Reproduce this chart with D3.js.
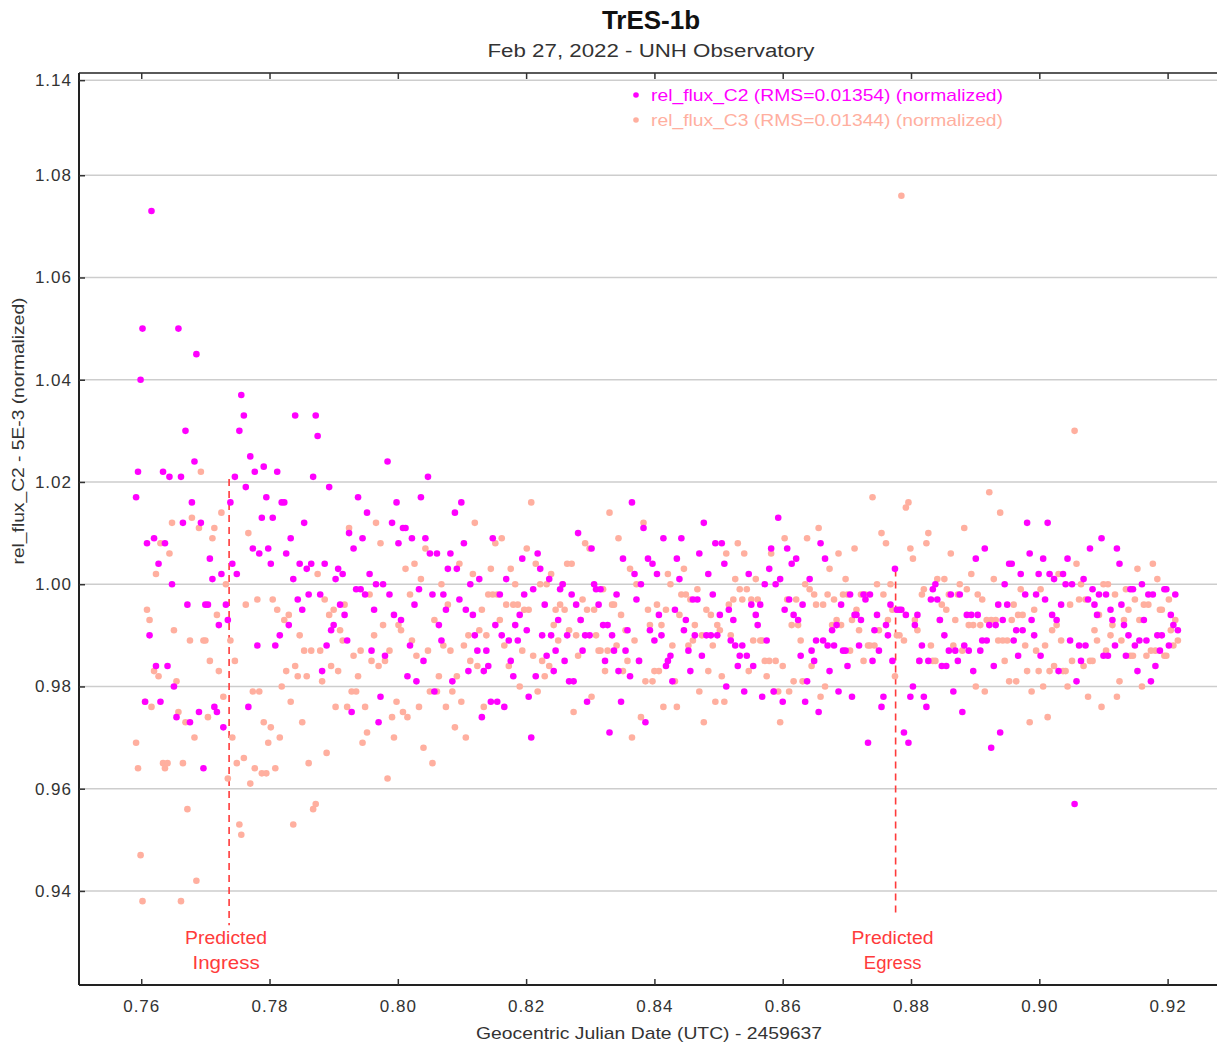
<!DOCTYPE html>
<html>
<head>
<meta charset="utf-8">
<script src="https://cdn.jsdelivr.net/npm/d3@7"></script>
<style>
  body { margin: 0; background: #fff; }
  svg { display: block; font-family: "Liberation Sans", Arial, sans-serif; }
</style>
</head>
<body>
<svg id="chart" width="1217" height="1046"></svg>
<script>
// Temps (JD géocentrique - 2459637), une ligne = 10 poses
const jd = [
  0.7592,0.7595,0.7599,0.7602,0.7606,0.7609,0.7613,0.7616,0.7620,0.7623,
  0.7627,0.7630,0.7634,0.7637,0.7641,0.7644,0.7648,0.7651,0.7655,0.7658,
  0.7662,0.7665,0.7669,0.7672,0.7676,0.7679,0.7683,0.7686,0.7690,0.7693,
  0.7697,0.7700,0.7704,0.7707,0.7711,0.7714,0.7718,0.7721,0.7725,0.7728,
  0.7732,0.7735,0.7739,0.7742,0.7746,0.7749,0.7753,0.7756,0.7760,0.7763,
  0.7767,0.7770,0.7774,0.7777,0.7781,0.7784,0.7788,0.7791,0.7795,0.7798,
  0.7802,0.7805,0.7809,0.7812,0.7816,0.7819,0.7823,0.7826,0.7830,0.7833,
  0.7837,0.7840,0.7844,0.7847,0.7851,0.7854,0.7858,0.7861,0.7865,0.7868,
  0.7872,0.7875,0.7879,0.7882,0.7886,0.7889,0.7893,0.7896,0.7900,0.7903,
  0.7907,0.7910,0.7914,0.7917,0.7921,0.7924,0.7928,0.7931,0.7935,0.7938,
  0.7942,0.7945,0.7949,0.7952,0.7956,0.7959,0.7963,0.7966,0.7970,0.7973,
  0.7977,0.7980,0.7984,0.7987,0.7991,0.7994,0.7998,0.8001,0.8005,0.8008,
  0.8012,0.8015,0.8019,0.8022,0.8026,0.8029,0.8033,0.8036,0.8040,0.8043,
  0.8047,0.8050,0.8054,0.8057,0.8061,0.8064,0.8068,0.8071,0.8075,0.8078,
  0.8082,0.8085,0.8089,0.8092,0.8096,0.8099,0.8103,0.8106,0.8110,0.8113,
  0.8117,0.8120,0.8124,0.8127,0.8131,0.8134,0.8138,0.8141,0.8145,0.8148,
  0.8152,0.8155,0.8159,0.8162,0.8166,0.8169,0.8173,0.8176,0.8180,0.8183,
  0.8187,0.8190,0.8194,0.8197,0.8201,0.8204,0.8208,0.8211,0.8215,0.8218,
  0.8222,0.8225,0.8229,0.8232,0.8236,0.8239,0.8243,0.8246,0.8250,0.8253,
  0.8257,0.8260,0.8264,0.8267,0.8271,0.8274,0.8278,0.8281,0.8285,0.8288,
  0.8292,0.8295,0.8299,0.8302,0.8306,0.8309,0.8313,0.8316,0.8320,0.8323,
  0.8327,0.8330,0.8334,0.8337,0.8341,0.8344,0.8348,0.8351,0.8355,0.8358,
  0.8362,0.8365,0.8369,0.8372,0.8376,0.8379,0.8383,0.8386,0.8390,0.8393,
  0.8397,0.8400,0.8404,0.8407,0.8411,0.8414,0.8418,0.8421,0.8425,0.8428,
  0.8432,0.8435,0.8439,0.8442,0.8446,0.8449,0.8453,0.8456,0.8460,0.8463,
  0.8467,0.8470,0.8474,0.8477,0.8481,0.8484,0.8488,0.8491,0.8495,0.8498,
  0.8502,0.8505,0.8509,0.8512,0.8516,0.8519,0.8523,0.8526,0.8530,0.8533,
  0.8537,0.8540,0.8544,0.8547,0.8551,0.8554,0.8558,0.8561,0.8565,0.8568,
  0.8572,0.8575,0.8579,0.8582,0.8586,0.8589,0.8593,0.8596,0.8600,0.8603,
  0.8607,0.8610,0.8614,0.8617,0.8621,0.8624,0.8628,0.8631,0.8635,0.8638,
  0.8642,0.8645,0.8649,0.8652,0.8656,0.8659,0.8663,0.8666,0.8670,0.8673,
  0.8677,0.8680,0.8684,0.8687,0.8691,0.8694,0.8698,0.8701,0.8705,0.8708,
  0.8712,0.8715,0.8719,0.8722,0.8726,0.8729,0.8733,0.8736,0.8740,0.8743,
  0.8747,0.8750,0.8754,0.8757,0.8761,0.8764,0.8768,0.8771,0.8775,0.8778,
  0.8782,0.8785,0.8789,0.8792,0.8796,0.8799,0.8803,0.8806,0.8810,0.8813,
  0.8817,0.8820,0.8824,0.8827,0.8831,0.8834,0.8838,0.8841,0.8845,0.8848,
  0.8852,0.8855,0.8859,0.8862,0.8866,0.8869,0.8873,0.8876,0.8880,0.8883,
  0.8887,0.8890,0.8894,0.8897,0.8901,0.8904,0.8908,0.8911,0.8915,0.8918,
  0.8922,0.8925,0.8929,0.8932,0.8936,0.8939,0.8943,0.8946,0.8950,0.8953,
  0.8957,0.8960,0.8964,0.8967,0.8971,0.8974,0.8978,0.8981,0.8985,0.8988,
  0.8992,0.8995,0.8999,0.9002,0.9006,0.9009,0.9013,0.9016,0.9020,0.9023,
  0.9027,0.9030,0.9034,0.9037,0.9041,0.9044,0.9048,0.9051,0.9055,0.9058,
  0.9062,0.9065,0.9069,0.9072,0.9076,0.9079,0.9083,0.9086,0.9090,0.9093,
  0.9097,0.9100,0.9104,0.9107,0.9111,0.9114,0.9118,0.9121,0.9125,0.9128,
  0.9132,0.9135,0.9139,0.9142,0.9146,0.9149,0.9153,0.9156,0.9160,0.9163,
  0.9167,0.9170,0.9174,0.9177,0.9181,0.9184,0.9188,0.9191,0.9195,0.9198,
  0.9202,0.9205,0.9209,0.9212,0.9216
];

// rel_flux_C2 (normalisé)
const fluxC2 = [
  1.017,1.022,1.040,1.050,0.977,1.008,0.990,1.073,1.009,0.984,
  1.004,0.977,1.022,1.008,0.984,1.021,1.000,0.980,0.974,1.050,
  1.021,1.012,1.030,0.996,0.973,1.016,1.024,1.045,0.975,1.012,
  0.964,0.996,0.996,1.005,1.001,0.976,0.975,0.992,1.002,0.972,
  0.996,0.993,1.016,1.004,1.021,1.002,1.030,1.037,1.033,1.019,
  0.976,1.025,1.007,1.022,0.988,1.006,1.013,1.023,1.017,1.007,
  1.004,1.013,0.988,1.022,0.990,1.016,1.016,1.006,0.992,1.009,
  1.001,1.033,0.997,1.004,0.995,1.012,1.003,0.998,1.004,1.021,
  1.033,1.029,0.998,0.983,1.004,0.988,1.019,0.991,0.992,1.001,
  1.003,0.996,1.002,0.994,0.989,1.010,0.975,1.007,0.999,1.017,
  0.999,1.009,0.998,1.014,1.002,0.987,0.995,1.000,0.973,0.978,
  1.000,0.986,1.024,0.998,1.012,0.994,1.016,1.008,0.993,1.011,
  1.011,0.982,0.988,1.009,0.996,0.981,0.999,1.017,0.985,1.009,
  1.021,1.006,0.998,0.979,1.006,0.992,0.989,0.998,0.995,1.003,
  1.006,0.981,1.014,1.003,0.997,1.016,1.008,0.995,0.983,1.000,
  0.994,0.990,0.987,1.001,0.974,0.983,0.987,0.984,0.977,1.009,
  0.992,0.977,0.998,0.990,0.976,1.001,0.989,0.985,0.982,0.992,
  0.989,0.994,1.005,0.998,0.991,0.978,0.970,0.999,0.982,1.006,
  1.003,0.990,0.996,0.986,1.001,0.990,0.983,0.987,0.993,0.999,
  1.000,0.985,0.990,0.981,0.998,0.981,0.996,1.010,0.993,0.987,
  0.990,0.977,0.990,1.007,1.000,0.999,0.996,0.999,0.992,0.985,
  0.992,0.971,0.990,0.987,0.998,0.983,0.977,1.005,0.987,0.991,
  0.982,1.016,1.002,0.997,0.985,1.000,1.011,0.973,1.005,0.991,
  1.004,0.989,1.002,0.994,0.990,1.009,0.984,0.985,0.986,0.981,
  0.995,1.005,1.001,1.009,0.991,0.993,0.987,0.983,0.997,0.990,
  0.997,1.006,0.986,1.012,0.990,1.002,0.990,0.998,1.008,0.990,
  0.994,1.008,1.004,0.980,0.995,0.989,0.993,0.988,0.984,0.986,
  0.988,0.979,0.986,1.002,0.996,0.984,0.994,0.992,0.996,0.978,
  1.000,0.989,1.003,1.007,0.979,1.000,1.013,1.001,0.977,0.995,
  1.007,0.997,1.004,0.994,1.005,0.993,0.986,0.996,0.977,0.981,
  1.001,0.987,0.985,0.989,0.975,1.008,0.989,1.005,0.988,0.983,
  0.991,0.988,0.992,0.979,0.996,0.987,0.987,0.984,0.998,0.978,
  0.994,0.994,0.988,0.993,0.998,0.997,0.969,0.998,0.985,0.991,
  0.994,0.987,0.976,0.978,0.992,0.990,0.996,0.985,1.003,0.995,
  0.995,0.995,0.971,0.994,0.969,0.978,0.980,0.992,0.994,0.985,
  0.988,0.978,0.976,0.985,0.997,0.999,1.000,0.997,0.993,0.984,
  0.990,0.984,0.987,0.998,0.979,0.987,0.985,0.998,0.975,0.988,
  0.994,0.987,0.994,0.983,1.005,0.994,0.987,0.989,1.007,0.989,
  0.992,0.968,0.984,0.992,0.996,0.971,0.993,1.000,0.996,1.004,
  1.004,0.989,0.991,0.986,1.002,0.991,0.998,1.012,1.006,0.993,
  0.990,0.998,1.002,0.986,1.005,0.997,1.012,1.002,0.994,1.001,
  0.993,0.983,0.996,1.002,1.000,1.005,0.989,1.000,0.957,0.981,
  0.988,0.985,1.001,0.988,0.997,1.007,0.999,0.996,0.994,0.998,
  1.009,0.986,0.998,0.986,0.995,0.993,0.988,1.007,1.004,0.996,
  0.992,0.986,0.990,0.999,0.999,0.988,0.983,0.989,1.000,0.993,
  0.989,0.998,0.981,0.998,0.984,0.990,0.987,0.990,0.999,0.999,
  0.988,0.994,0.992,0.998,0.991
];

// rel_flux_C3 (normalisé)
const fluxC3 = [
  0.969,0.964,0.947,0.938,0.977,0.995,0.993,0.976,0.983,1.002,
  0.982,1.008,0.965,0.964,0.965,1.006,1.012,0.991,0.981,0.975,
  0.938,0.965,0.973,0.956,0.989,1.013,0.970,0.942,1.011,1.022,
  0.989,0.989,0.974,0.985,1.009,1.011,0.994,0.983,1.014,0.978,
  1.000,0.962,0.989,0.970,0.985,0.965,0.953,0.951,0.966,0.996,
  1.010,0.961,0.979,0.964,0.997,0.979,0.963,0.973,0.963,0.969,
  0.972,0.997,0.964,0.995,0.970,0.980,0.993,0.983,0.994,0.977,
  0.953,0.984,0.982,0.990,0.973,0.987,0.982,0.965,0.987,0.956,
  0.957,1.002,0.987,0.981,0.997,0.967,0.994,0.984,0.995,0.976,
  0.983,0.991,0.989,0.996,0.976,1.011,0.979,0.986,0.979,0.982,
  0.987,0.969,0.976,0.971,0.998,0.985,0.990,1.012,0.984,1.008,
  0.992,0.985,0.962,0.987,0.974,0.970,0.977,0.992,0.991,0.975,
  1.003,0.974,0.998,0.989,1.004,0.986,0.976,1.001,0.968,1.007,
  0.987,0.979,0.965,0.993,0.979,0.982,1.000,0.988,0.976,0.996,
  0.987,0.979,0.972,0.982,1.004,0.977,0.988,0.970,0.990,0.985,
  1.002,1.012,0.984,0.991,0.995,0.976,0.990,0.998,1.003,0.998,
  1.008,0.998,0.993,1.009,0.988,0.996,0.984,1.003,0.996,1.000,
  0.996,0.980,0.987,0.995,1.007,0.995,1.016,0.986,1.004,0.979,
  1.000,0.985,0.982,1.000,0.984,1.002,0.992,0.995,0.989,0.996,
  1.000,0.995,1.004,0.991,1.004,0.975,0.990,0.986,0.993,0.997,
  1.008,0.995,1.007,0.978,0.995,0.990,0.987,0.987,0.999,0.983,
  0.987,1.014,0.996,0.996,0.988,1.009,0.994,0.983,0.991,0.985,
  1.003,0.970,0.989,1.000,0.985,0.974,1.012,0.981,0.995,0.992,
  0.981,0.983,0.996,0.983,0.992,0.976,0.995,1.002,1.000,0.988,
  0.981,0.976,0.994,0.998,1.003,0.998,0.988,0.997,0.989,0.992,
  0.999,0.979,0.990,0.973,0.995,0.983,0.994,0.988,0.977,0.992,
  0.991,0.982,0.977,1.006,0.996,0.990,0.997,1.001,1.008,0.999,
  0.997,1.006,0.999,0.983,0.997,0.989,1.001,0.997,0.989,0.989,
  0.985,0.982,0.985,1.006,0.979,0.985,0.979,0.973,0.984,1.009,
  0.997,0.979,0.992,0.981,0.997,0.992,0.989,0.981,1.000,1.009,
  0.999,0.984,0.998,0.996,1.011,0.978,0.996,0.980,0.998,1.003,
  0.992,0.997,0.993,1.006,0.992,0.998,1.001,0.998,0.987,0.993,
  1.007,0.995,0.991,0.998,0.985,0.998,0.988,0.988,1.017,0.988,
  1.000,0.991,1.010,0.998,1.008,0.993,1.000,0.995,0.982,0.990,
  0.990,1.076,0.989,1.015,1.016,1.007,1.005,0.993,0.991,0.985,
  0.998,0.999,1.008,1.010,0.988,0.985,0.985,1.001,0.993,0.996,
  1.001,0.995,0.998,1.006,0.988,0.993,0.998,1.000,0.987,1.011,
  0.999,0.992,1.002,0.992,0.980,0.998,0.992,0.997,0.979,0.993,
  1.018,0.993,1.001,0.993,0.989,1.014,0.989,0.985,0.989,0.981,
  0.993,0.996,0.981,0.994,0.999,0.994,0.988,0.983,0.973,0.979,
  0.995,0.987,0.983,0.999,0.980,0.988,0.974,0.983,0.991,0.984,
  0.992,1.002,0.989,0.983,0.983,0.980,0.996,0.985,1.030,1.004,
  0.997,1.000,0.984,0.997,0.978,0.985,0.985,0.991,0.989,0.994,
  0.976,1.000,0.987,1.000,0.990,0.992,0.998,0.978,0.981,0.989,
  0.993,0.999,0.995,0.986,0.986,0.997,1.003,0.993,0.980,0.996,
  0.986,0.996,0.987,1.004,0.987,1.001,0.995,0.995,0.986,0.986,
  0.997,0.991,0.988,0.993,0.989
];

const seriesNames = ['rel_flux_C2 (RMS=0.01354) (normalized)', 'rel_flux_C3 (RMS=0.01344) (normalized)'];
const xTicks = [0.76, 0.78, 0.80, 0.82, 0.84, 0.86, 0.88, 0.90, 0.92];
// la graduation du haut est étiquetée "1.14" sur l'original
const yTicks = [0.94, 0.96, 0.98, 1.00, 1.02, 1.04, 1.06, 1.08, 1.0986];
const yTickLabels = ['0.94', '0.96', '0.98', '1.00', '1.02', '1.04', '1.06', '1.08', '1.14'];
const predictedNames = ['Ingress', 'Egress'];
const predictedTimes = [0.7737, 0.8776];
const predictedTops = [1.0206, 1.0029];
const predictedBottoms = [0.9333, 0.9353];

const colC2 = '#ff00ff';
const colC3 = '#ffaf9f';
const colRed = '#ff3b3b';

const plotLeft = 79, plotRight = 1217, plotTop = 73, plotBottom = 985;

const svg = d3.select('#chart');

const x = d3.scaleLinear().domain([0.7503, 0.9277]).range([plotLeft, plotRight]);
const y = d3.scaleLinear().domain([0.9216, 1.10]).range([plotBottom, plotTop]);

// Titres
svg.append('text')
    .attr('x', 651).attr('y', 29)
    .attr('text-anchor', 'middle')
    .attr('font-size', 26).attr('font-weight', 'bold')
    .attr('fill', '#111')
    .text('TrES-1b');

svg.append('text')
    .attr('x', 651).attr('y', 57)
    .attr('text-anchor', 'middle')
    .attr('font-size', 18)
    .attr('fill', '#333')
    .attr('textLength', 327).attr('lengthAdjust', 'spacingAndGlyphs')
    .text('Feb 27, 2022 - UNH Observatory');

// Grille horizontale
svg.append('g')
    .selectAll('line')
    .data(yTicks)
    .enter()
    .append('line')
    .attr('x1', plotLeft).attr('x2', plotRight)
    .attr('y1', d => y(d)).attr('y2', d => y(d))
    .attr('stroke', '#cdcdcd')
    .attr('stroke-width', 1.5);

// Lignes d'entrée / sortie prévues (étiquettes alignées sur la même hauteur)
const pred = svg.append('g');
const labelBase = y(d3.min(predictedBottoms)) + 19;
predictedTimes.forEach((t, i) => {
    pred.append('line')
        .attr('x1', x(t)).attr('x2', x(t))
        .attr('y1', y(predictedTops[i])).attr('y2', y(predictedBottoms[i]))
        .attr('stroke', colRed)
        .attr('stroke-width', 1.6)
        .attr('stroke-dasharray', '7,5');
    pred.append('text')
        .attr('x', x(t) - 3).attr('y', labelBase)
        .attr('text-anchor', 'middle')
        .attr('font-size', 18).attr('fill', colRed)
        .attr('textLength', 82).attr('lengthAdjust', 'spacingAndGlyphs')
        .text('Predicted');
    pred.append('text')
        .attr('x', x(t) - 3).attr('y', labelBase + 25)
        .attr('text-anchor', 'middle')
        .attr('font-size', 18).attr('fill', colRed)
        .attr('textLength', predictedNames[i].length * 9.6).attr('lengthAdjust', 'spacingAndGlyphs')
        .text(predictedNames[i]);
});

// Points : C3 d'abord, C2 par-dessus
svg.append('g')
    .selectAll('circle')
    .data(jd.map((t, i) => [t, fluxC3[i]]).filter(d => d[1] !== undefined))
    .enter()
    .append('circle')
    .attr('cx', d => x(d[0]))
    .attr('cy', d => y(d[1]))
    .attr('r', 3.3)
    .attr('fill', colC3);

svg.append('g')
    .selectAll('circle')
    .data(jd.map((t, i) => [t, fluxC2[i]]).filter(d => d[1] !== undefined))
    .enter()
    .append('circle')
    .attr('cx', d => x(d[0]))
    .attr('cy', d => y(d[1]))
    .attr('r', 3.3)
    .attr('fill', colC2);

// Cadre
svg.append('line').attr('x1', plotLeft).attr('x2', plotRight).attr('y1', plotTop).attr('y2', plotTop)
    .attr('stroke', '#222').attr('stroke-width', 1.5);
svg.append('line').attr('x1', plotLeft).attr('x2', plotLeft).attr('y1', plotTop).attr('y2', plotBottom)
    .attr('stroke', '#222').attr('stroke-width', 2);
svg.append('line').attr('x1', plotLeft).attr('x2', plotRight).attr('y1', plotBottom).attr('y2', plotBottom)
    .attr('stroke', '#222').attr('stroke-width', 2);

// Axes
const gx = svg.append('g')
    .attr('transform', `translate(0,${plotBottom})`)
    .call(d3.axisBottom(x).tickValues(xTicks).tickFormat(d3.format('.2f')).tickSize(-6).tickPadding(15));
gx.select('.domain').remove();

const gxTop = svg.append('g')
    .attr('transform', `translate(0,${plotTop})`)
    .call(d3.axisTop(x).tickValues(xTicks).tickFormat('').tickSize(-6));
gxTop.select('.domain').remove();

const gy = svg.append('g')
    .attr('transform', `translate(${plotLeft},0)`)
    .call(d3.axisLeft(y).tickValues(yTicks).tickFormat((d, i) => yTickLabels[i]).tickSize(-6).tickPadding(7));
gy.select('.domain').remove();

[gx, gxTop, gy].forEach(g => {
    g.attr('font-family', null).attr('font-size', null);
    g.selectAll('line').attr('stroke', '#333').attr('stroke-width', 1.5);
    g.selectAll('text')
        .attr('font-size', 17)
        .attr('fill', '#333')
        .attr('letter-spacing', 1);
});

// Titres des axes
svg.append('text')
    .attr('x', 649).attr('y', 1039)
    .attr('text-anchor', 'middle')
    .attr('font-size', 17).attr('fill', '#333')
    .attr('textLength', 346).attr('lengthAdjust', 'spacingAndGlyphs')
    .text('Geocentric Julian Date (UTC) - 2459637');

svg.append('text')
    .attr('transform', 'translate(24,431) rotate(-90)')
    .attr('text-anchor', 'middle')
    .attr('font-size', 17).attr('fill', '#333')
    .attr('textLength', 267).attr('lengthAdjust', 'spacingAndGlyphs')
    .text('rel_flux_C2 - 5E-3 (normalized)');

// Légende
const legend = svg.append('g');
[colC2, colC3].forEach((c, i) => {
    legend.append('circle')
        .attr('cx', 636).attr('cy', 95 + i * 25)
        .attr('r', 2.8)
        .attr('fill', c);
    legend.append('text')
        .attr('x', 651).attr('y', 101 + i * 25)
        .attr('font-size', 17).attr('fill', c)
        .attr('textLength', 352).attr('lengthAdjust', 'spacingAndGlyphs')
        .text(seriesNames[i]);
});
</script>
</body>
</html>
